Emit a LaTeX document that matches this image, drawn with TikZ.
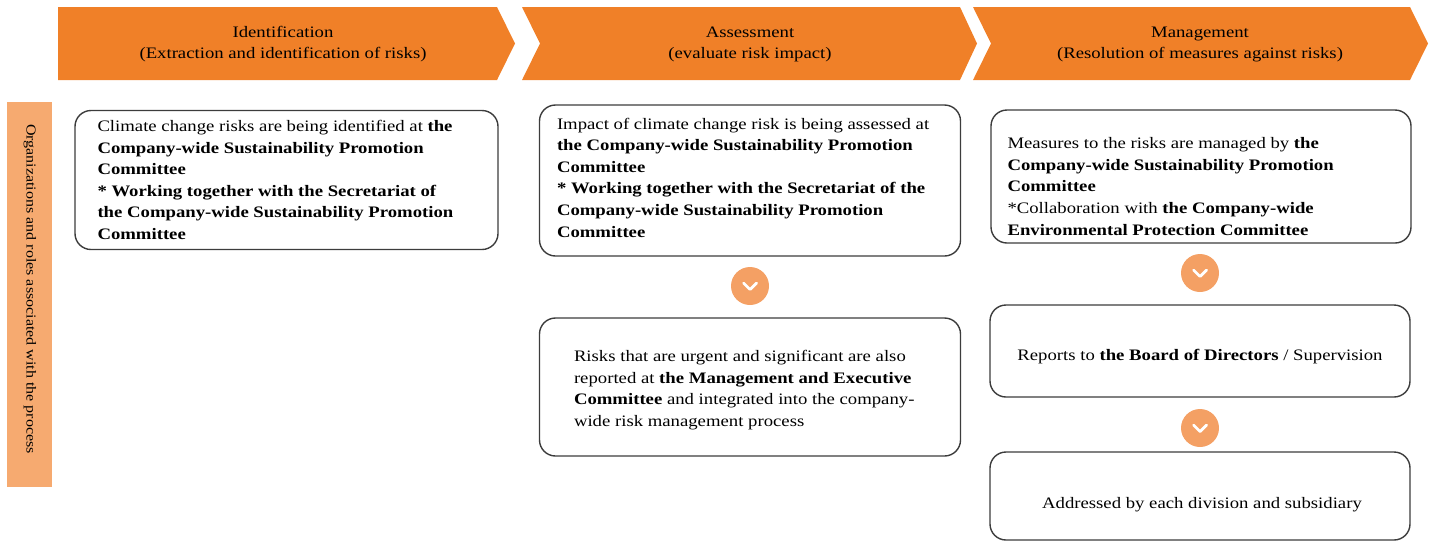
\documentclass[tikz,border=0pt]{standalone}
\usepackage{fontspec}
\setmainfont{Liberation Serif}[FakeStretch=1.17]
\begin{document}
\definecolor{bannerorange}{RGB}{240,128,40}
\definecolor{barorange}{RGB}{246,170,112}
\definecolor{dotorange}{RGB}{244,160,100}
\definecolor{framegray}{RGB}{60,60,60}
\begin{tikzpicture}[x=1pt,y=-1pt,
  banner/.style={fill=bannerorange,draw=none},
  headtext/.style={align=center,font=\fontsize{16}{21}\selectfont,inner sep=0pt},
  stagebox/.style={draw=framegray,line width=1.4pt,rounded corners=16pt,fill=white,inner sep=0pt},
  bodytext/.style={align=left,font=\fontsize{16}{21.6}\selectfont,inner sep=0pt,anchor=west},
  dot/.style={circle,fill=dotorange,minimum size=38pt,inner sep=0pt},
  vee/.style={draw=white,line width=2.8pt,line cap=round,line join=round}
]
\useasboundingbox (0,0) rectangle (1434,542);

% process stages along the top
\path[banner] (58,7) -- (497,7) -- (515,43.5) -- (497,80) -- (58,80) -- cycle;
\path[banner] (522,7) -- (960,7) -- (977,43.5) -- (960,80) -- (522,80) -- (540,43.5) -- cycle;
\path[banner] (973,7) -- (1410,7) -- (1428,43.5) -- (1410,80) -- (973,80) -- (991,43.5) -- cycle;
\node[headtext] (h1) at (283,44) {Identification\\(Extraction and identification of risks)};
\node[headtext] (h2) at (750,44) {Assessment\\(evaluate risk impact)};
\node[headtext] (h3) at (1200,44) {Management\\(Resolution of measures against risks)};

% side label
\path[fill=barorange] (7,102) rectangle (52,487);
\node[rotate=-90,font=\fontsize{13.7}{17}\selectfont,inner sep=0pt] (side) at (30,289)
  {Organizations and roles associated with the process};

% identification
\node[stagebox,minimum width=423pt,minimum height=139pt] (b1) at (286.5,180) {};
\node[bodytext] (t1) at ([xshift=23pt]b1.west) {Climate change risks are being identified at \textbf{the}\\
\textbf{Company-wide Sustainability Promotion}\\
\textbf{Committee}\\
\textbf{* Working together with the Secretariat of}\\
\textbf{the Company-wide Sustainability Promotion}\\
\textbf{Committee}};

% assessment
\node[stagebox,minimum width=421pt,minimum height=151pt] (b2) at (750,180.5) {};
\node[bodytext] (t2) at ([xshift=18pt,yshift=3pt]b2.west) {Impact of climate change risk is being assessed at\\
\textbf{the Company-wide Sustainability Promotion}\\
\textbf{Committee}\\
\textbf{* Working together with the Secretariat of the}\\
\textbf{Company-wide Sustainability Promotion}\\
\textbf{Committee}};

\node[dot] (d1) at (750,286) {};
\draw[vee] ([shift={(-6.5,-3)}]d1.center) -- ([shift={(0,3.5)}]d1.center) -- ([shift={(6.5,-3)}]d1.center);

\node[stagebox,minimum width=421pt,minimum height=138pt] (b3) at (750,387) {};
\node[bodytext] (t3) at ([xshift=35pt,yshift=-3pt]b3.west) {Risks that are urgent and significant are also\\
reported at \textbf{the Management and Executive}\\
\textbf{Committee} and integrated into the company-\\
wide risk management process};

% management
\node[stagebox,minimum width=420pt,minimum height=133pt] (b4) at (1201,176.5) {};
\node[bodytext] (t4) at ([xshift=17pt,yshift=-10pt]b4.west) {Measures to the risks are managed by \textbf{the}\\
\textbf{Company-wide Sustainability Promotion}\\
\textbf{Committee}\\
*Collaboration with \textbf{the Company-wide}\\
\textbf{Environmental Protection Committee}};

\node[dot] (d2) at (1200,273) {};
\draw[vee] ([shift={(-6.5,-3)}]d2.center) -- ([shift={(0,3.5)}]d2.center) -- ([shift={(6.5,-3)}]d2.center);

\node[stagebox,minimum width=420pt,minimum height=92pt] (b5) at (1200,351) {};
\node[bodytext,anchor=center] (t5) at ([yshift=-6pt]b5.center)
  {Reports to \textbf{the Board of Directors} / Supervision};

\node[dot] (d3) at (1200,428) {};
\draw[vee] ([shift={(-6.5,-3)}]d3.center) -- ([shift={(0,3.5)}]d3.center) -- ([shift={(6.5,-3)}]d3.center);

\node[stagebox,minimum width=420pt,minimum height=88pt] (b6) at (1200,496) {};
\node[bodytext,anchor=center] (t6) at ([xshift=2pt,yshift=-9pt]b6.center)
  {Addressed by each division and subsidiary};
\end{tikzpicture}
\end{document}
